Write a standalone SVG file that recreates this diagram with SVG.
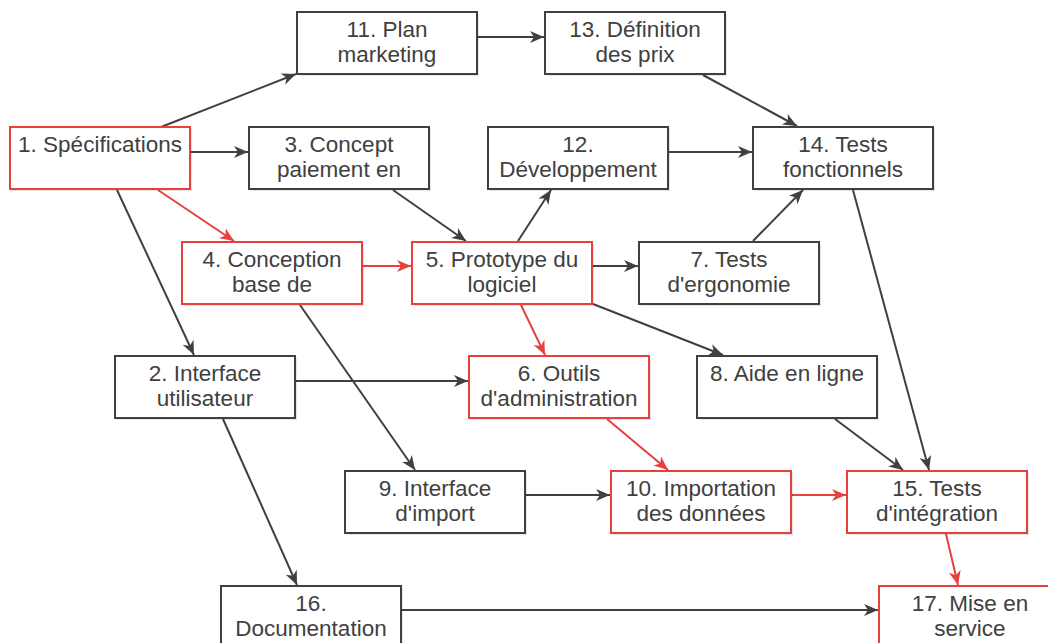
<svg xmlns="http://www.w3.org/2000/svg" width="1048" height="643" viewBox="0 0 1048 643">
<style>
.box rect.b{fill:#fff;stroke:#404040;stroke-width:2}
.box.crit rect.b{stroke:#e8403f}
.box rect.s{fill:#000;opacity:0.1}
.box text{font-family:"Liberation Sans",Arial,sans-serif;font-size:22.5px;fill:#404040;text-anchor:middle}
.e{fill:none;stroke:#404040;stroke-width:2;marker-end:url(#ad)}
.e.r{stroke:#e8403f;marker-end:url(#ar)}
</style>
<defs>
<marker id="ad" markerUnits="userSpaceOnUse" markerWidth="16" markerHeight="14" refX="14" refY="6" orient="auto"><path d="M0,0 L14,6 L0,12 L4,6 z" fill="#404040"/></marker>
<marker id="ar" markerUnits="userSpaceOnUse" markerWidth="16" markerHeight="14" refX="14" refY="6" orient="auto"><path d="M0,0 L14,6 L0,12 L4,6 z" fill="#e8403f"/></marker>
</defs>
<rect width="1048" height="643" fill="#fff"/>
<g id="connectors">
<line class="e" x1="161" y1="127" x2="296" y2="74"/>
<line class="e" x1="191" y1="152" x2="248" y2="152"/>
<line class="e r" x1="158" y1="190" x2="234" y2="241"/>
<line class="e" x1="117" y1="190" x2="194" y2="355"/>
<line class="e" x1="393" y1="190" x2="466" y2="241"/>
<line class="e r" x1="363" y1="266" x2="411" y2="266"/>
<line class="e" x1="300" y1="305" x2="415" y2="470"/>
<line class="e" x1="478" y1="37" x2="544" y2="37"/>
<line class="e" x1="703" y1="75" x2="797" y2="126"/>
<line class="e" x1="669" y1="152" x2="752" y2="152"/>
<line class="e" x1="518" y1="241" x2="551" y2="190"/>
<line class="e" x1="753" y1="241" x2="803" y2="190"/>
<line class="e" x1="593" y1="266" x2="638" y2="266"/>
<line class="e r" x1="521" y1="305" x2="545" y2="355"/>
<line class="e" x1="593" y1="304" x2="723" y2="355"/>
<line class="e" x1="296" y1="381" x2="468" y2="381"/>
<line class="e" x1="223" y1="419" x2="297" y2="585"/>
<line class="e r" x1="607" y1="419" x2="668" y2="470"/>
<line class="e" x1="526" y1="495" x2="610" y2="495"/>
<line class="e r" x1="791" y1="495" x2="846" y2="495"/>
<line class="e" x1="835" y1="419" x2="903" y2="470"/>
<line class="e" x1="853" y1="190" x2="929" y2="470"/>
<line class="e r" x1="946" y1="534" x2="958" y2="585"/>
<line class="e" x1="401" y1="610" x2="878" y2="610"/>
</g>
<g id="n1" class="box crit"><rect class="s" x="12" y="129" width="180" height="62"/><rect class="b" x="10" y="127" width="180" height="62"/><text x="100" y="152">1. Spécifications</text></g>
<g id="n11" class="box"><rect class="s" x="299" y="14" width="180" height="62"/><rect class="b" x="297" y="12" width="180" height="62"/><text x="387" y="37">11. Plan</text><text x="387" y="62">marketing</text></g>
<g id="n13" class="box"><rect class="s" x="547" y="14" width="180" height="62"/><rect class="b" x="545" y="12" width="180" height="62"/><text x="635" y="37">13. Définition</text><text x="635" y="62">des prix</text></g>
<g id="n3" class="box"><rect class="s" x="251" y="129" width="180" height="62"/><rect class="b" x="249" y="127" width="180" height="62"/><text x="339" y="152">3. Concept</text><text x="339" y="177">paiement en</text></g>
<g id="n12" class="box"><rect class="s" x="490" y="129" width="180" height="62"/><rect class="b" x="488" y="127" width="180" height="62"/><text x="578" y="152">12.</text><text x="578" y="177">Développement</text></g>
<g id="n14" class="box"><rect class="s" x="755" y="129" width="180" height="62"/><rect class="b" x="753" y="127" width="180" height="62"/><text x="843" y="152">14. Tests</text><text x="843" y="177">fonctionnels</text></g>
<g id="n4" class="box crit"><rect class="s" x="184" y="244" width="180" height="62"/><rect class="b" x="182" y="242" width="180" height="62"/><text x="272" y="267">4. Conception</text><text x="272" y="292">base de</text></g>
<g id="n5" class="box crit"><rect class="s" x="414" y="244" width="180" height="62"/><rect class="b" x="412" y="242" width="180" height="62"/><text x="502" y="267">5. Prototype du</text><text x="502" y="292">logiciel</text></g>
<g id="n7" class="box"><rect class="s" x="641" y="244" width="180" height="62"/><rect class="b" x="639" y="242" width="180" height="62"/><text x="729" y="267">7. Tests</text><text x="729" y="292">d'ergonomie</text></g>
<g id="n2" class="box"><rect class="s" x="117" y="358" width="180" height="62"/><rect class="b" x="115" y="356" width="180" height="62"/><text x="205" y="381">2. Interface</text><text x="205" y="406">utilisateur</text></g>
<g id="n6" class="box crit"><rect class="s" x="471" y="358" width="180" height="62"/><rect class="b" x="469" y="356" width="180" height="62"/><text x="559" y="381">6. Outils</text><text x="559" y="406">d'administration</text></g>
<g id="n8" class="box"><rect class="s" x="699" y="358" width="180" height="62"/><rect class="b" x="697" y="356" width="180" height="62"/><text x="787" y="381">8. Aide en ligne</text></g>
<g id="n9" class="box"><rect class="s" x="347" y="473" width="180" height="62"/><rect class="b" x="345" y="471" width="180" height="62"/><text x="435" y="496">9. Interface</text><text x="435" y="521">d'import</text></g>
<g id="n10" class="box crit"><rect class="s" x="613" y="473" width="180" height="62"/><rect class="b" x="611" y="471" width="180" height="62"/><text x="701" y="496">10. Importation</text><text x="701" y="521">des données</text></g>
<g id="n15" class="box crit"><rect class="s" x="849" y="473" width="180" height="62"/><rect class="b" x="847" y="471" width="180" height="62"/><text x="937" y="496">15. Tests</text><text x="937" y="521">d'intégration</text></g>
<g id="n16" class="box"><rect class="s" x="223" y="588" width="180" height="62"/><rect class="b" x="221" y="586" width="180" height="62"/><text x="311" y="611">16.</text><text x="311" y="636">Documentation</text></g>
<g id="n17" class="box crit"><rect class="s" x="881" y="588" width="181" height="62"/><rect class="b" x="879" y="586" width="181" height="62"/><text x="970" y="611">17. Mise en</text><text x="970" y="636">service</text></g>
</svg>
